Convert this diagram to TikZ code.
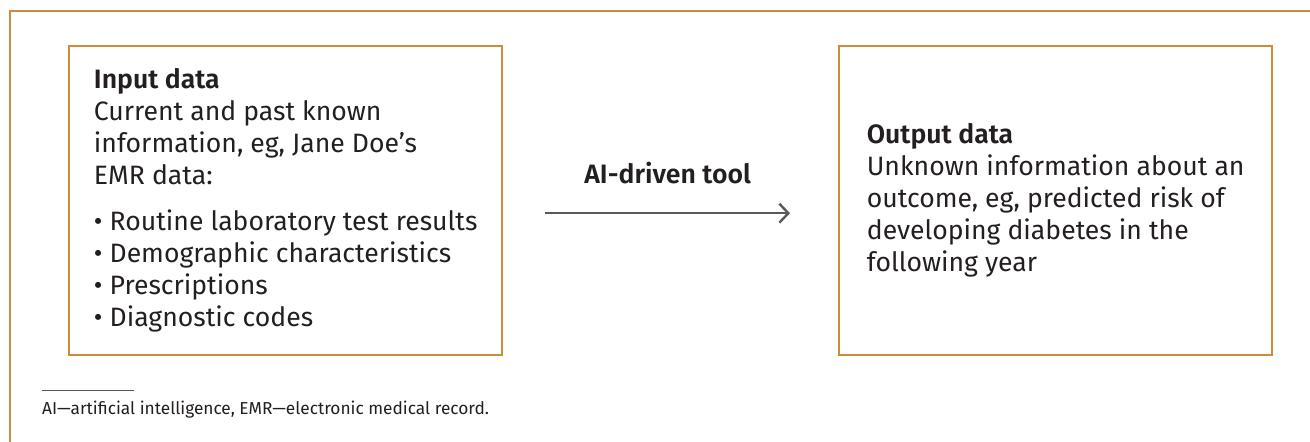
\documentclass[tikz,border=0pt]{standalone}
\usepackage{fontspec}
\setmainfont{Fira Sans}[BoldFont={Fira Sans SemiBold}]
\usepackage{tikz}
\usetikzlibrary{arrows.meta}
\definecolor{frameorange}{RGB}{205,140,58}
\definecolor{txtgray}{HTML}{231F20}
\definecolor{arrowgray}{HTML}{58595B}

\begin{document}
\begin{tikzpicture}[x=1pt, y=-1pt,
    databox/.style={rectangle, draw=frameorange, line width=2.4pt,
      minimum width=433pt, minimum height=309pt, inner xsep=20pt,
      align=left, text=txtgray, font=\fontsize{26.6}{32}\selectfont},
    >={Straight Barb[length=9pt, width=19pt, line width=2.4pt]}]

  \useasboundingbox (0,0) rectangle (1310,442);
  \draw[frameorange, line width=2pt] (1310,11) -- (10,11) -- (10,442);

  \node[databox, anchor=north west] (inbox) at (68,45)
    {\textbf{Input data}\\ Current and past known\\ information, eg, Jane Doe’s\\
     EMR data:\\[14pt]
     \textbullet\ Routine laboratory test results\\
     \textbullet\ Demographic characteristics\\
     \textbullet\ Prescriptions\\
     \textbullet\ Diagnostic codes};
  \node[databox, anchor=north west] (outbox) at (838,45)
    {\textbf{Output data}\\ Unknown information about an\\
     outcome, eg, predicted risk of\\ developing diabetes in the\\ following year};

  \draw[->, arrowgray, line width=2.4pt]
    ([xshift=42pt, yshift=-12.5pt]inbox.east) -- ([xshift=-48pt, yshift=-12.5pt]outbox.west)
    node[midway, yshift=40pt, text=txtgray, font=\fontsize{26.6}{32}\selectfont\bfseries] (tool) {AI-driven tool};

  %footnote
  \draw[arrowgray, line width=0.8pt] (42,390) -- (134,390);
  \node[anchor=west, inner sep=0pt, text=txtgray, font=\fontsize{17.3}{20}\selectfont] (note) at (42,410)
    {AI—artificial intelligence, EMR—electronic medical record.};
\end{tikzpicture}
\end{document}
